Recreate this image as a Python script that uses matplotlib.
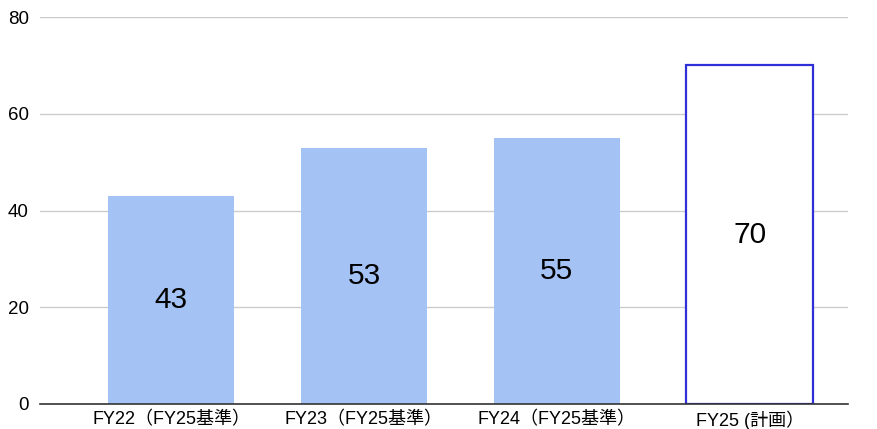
import matplotlib
matplotlib.use('Agg')
from matplotlib import pyplot as plt

plt.rcParams['font.family'] = ['Liberation Sans', 'Noto Sans CJK JP', 'DejaVu Sans']

categories = ['FY22（FY25基準）', 'FY23（FY25基準）', 'FY24（FY25基準）', 'FY25 (計画）']
values = [43, 53, 55, 70]
planned = [False, False, False, True]

fig = plt.figure(figsize=(8.77, 4.29), dpi=100)
ax = fig.add_axes([40 / 877, 25 / 429, 808 / 877, 387 / 429])

x = list(range(len(values)))
for i, (v, p) in enumerate(zip(values, planned)):
    if p:
        ax.bar(i, v, width=0.655, color='white', edgecolor='#2f2fd8', linewidth=1.6, zorder=3)
    else:
        ax.bar(i, v, width=0.655, color='#a4c2f4', edgecolor='none', zorder=3)
    ax.text(i, v / 2, str(v), ha='center', va='center', fontsize=21.5, color='#000000', zorder=4)

ax.set_xlim(-0.68, 3.51)
ax.set_ylim(0, 80)
ax.set_yticks([0, 20, 40, 60, 80])
ax.set_xticks(x)
ax.set_xticklabels(categories)
ax.tick_params(axis='y', length=0, labelsize=13.5, colors='#000000', pad=8)
ax.tick_params(axis='x', length=0, labelsize=13, colors='#000000', pad=5)
ax.grid(axis='y', color='#cccccc', linewidth=1, zorder=0)
for s in ['top', 'right', 'left']:
    ax.spines[s].set_visible(False)
ax.spines['bottom'].set_color('#333333')
ax.spines['bottom'].set_linewidth(1.2)
ax.spines['bottom'].set_zorder(5)

fig.savefig('out.png', dpi=100)
